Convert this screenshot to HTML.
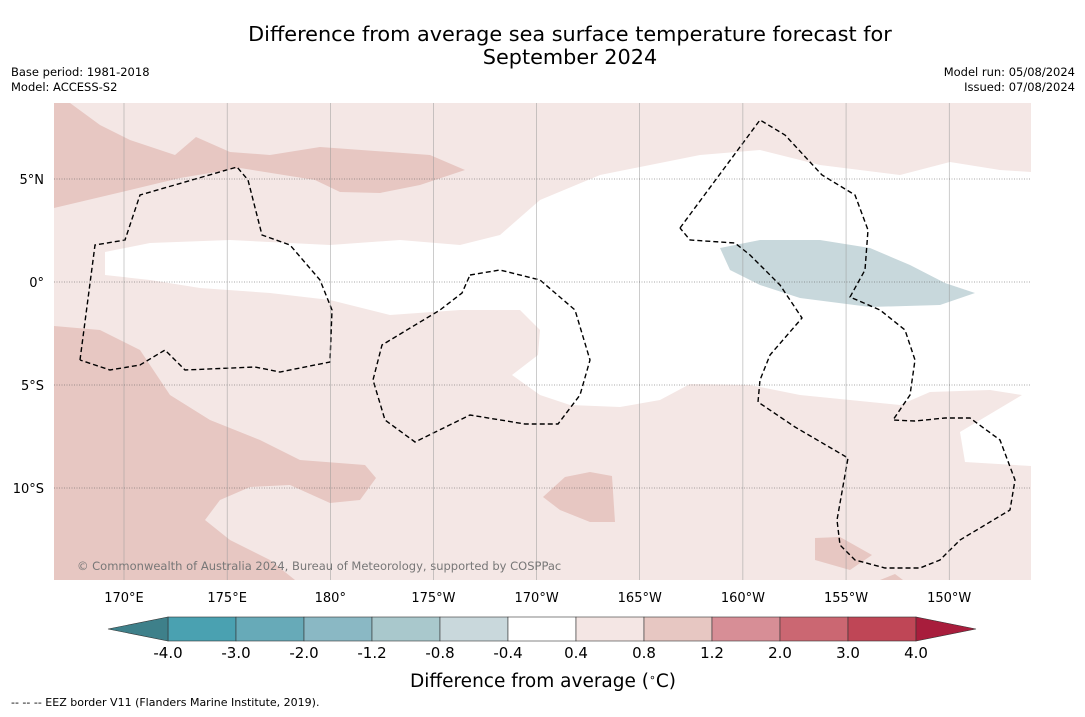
<!DOCTYPE html>
<html><head><meta charset="utf-8"><style>
body{margin:0;background:#fff;width:1085px;height:713px;overflow:hidden;font-family:"DejaVu Sans","Liberation Sans",sans-serif}
</style></head><body>
<svg width="1085" height="713" font-family="DejaVu Sans, Liberation Sans, sans-serif">
<text x="570" y="41" font-size="20.8" text-anchor="middle">Difference from average sea surface temperature forecast for</text>
<text x="570" y="64" font-size="20.8" text-anchor="middle">September 2024</text>
<text x="11" y="76" font-size="11.5">Base period: 1981-2018</text>
<text x="11" y="91" font-size="11.5">Model: ACCESS-S2</text>
<text x="1075" y="76" font-size="11.5" text-anchor="end">Model run: 05/08/2024</text>
<text x="1075" y="91" font-size="11.5" text-anchor="end">Issued: 07/08/2024</text>
<g id="map">
<clipPath id="mc"><rect x="54" y="103" width="977" height="477"/></clipPath>
<g clip-path="url(#mc)">
<rect x="54" y="103" width="977" height="477" fill="#f4e7e5"/>
<polygon fill="#fff" points="105,252 150,243 230,240 330,245 400,240 460,245 500,235 540,200 600,175 700,155 760,150 820,165 900,175 950,162 1000,170 1031,172 1031,466 965,462 960,432 1022,395 990,390 930,392 900,405 850,400 800,395 750,385 690,384 660,400 620,407 570,405 540,395 512,375 538,355 540,330 520,310 460,310 390,315 330,300 270,293 200,288 150,280 105,275"/>
<polygon fill="#e7c7c2" points="54,103 70,103 100,125 130,140 175,155 196,137 230,152 270,155 320,147 430,155 465,170 420,185 380,193 340,192 315,180 240,168 180,178 130,190 54,208"/>
<polygon fill="#e7c7c2" points="54,326 100,330 140,350 170,395 210,420 260,440 300,460 365,465 376,478 360,500 330,503 290,485 250,487 220,500 205,520 230,540 270,560 295,580 54,580"/>
<polygon fill="#e7c7c2" points="543,497 565,477 590,472 612,476 615,522 590,522 560,510"/>
<polygon fill="#e7c7c2" points="815,538 840,537 872,555 850,570 815,560"/>
<polygon fill="#e7c7c2" points="880,580 895,574 903,580"/>
<polygon fill="#c8d8dc" points="720,248 760,240 820,240 870,248 910,265 945,283 975,293 940,305 870,307 800,298 760,285 730,270"/>
<g fill="none" stroke="#000" stroke-width="1.4" stroke-dasharray="5,3">
<polyline points="80,360 95,245 125,240 140,195 237,167 248,180 262,235 290,245 320,280 332,310 330,362 280,372 255,367 185,370 165,350 140,365 110,370 80,360"/>
<polyline points="470,275 500,270 540,280 575,310 590,360 580,395 558,424 525,424 470,415 415,442 385,420 373,380 382,345 440,310 462,293 470,275"/>
<polyline points="680,228 760,120 785,135 822,175 855,195 868,230 865,270 850,297 880,310 905,330 915,360 910,395 893,420 915,421 945,418 970,418 1000,440 1015,480 1010,510 960,540 940,560 920,568 885,568 855,560 840,545 837,520 848,458 795,427 758,402 760,380 770,355 802,318 780,285 750,255 735,243 690,240 680,228"/>
</g>
</g>
<g id="grid"></g>
<text x="77" y="570" font-size="11.5" fill="#777">© Commonwealth of Australia 2024, Bureau of Meteorology, supported by COSPPac</text>
</g>
<g id="cbar"></g>
<text x="543" y="687" font-size="18.5" text-anchor="middle">Difference from average (<tspan baseline-shift="super" font-size="11">∘</tspan>C)</text>
<text x="11" y="706" font-size="11">--  --  -- EEZ border V11 (Flanders Marine Institute, 2019).</text>
</svg>
<script>
const lonTicks=["170°E","175°E","180°","175°W","170°W","165°W","160°W","155°W","150°W"];
const lonVals=[170,175,180,185,190,195,200,205,210];
const latTicks=["5°N","0°","5°S","10°S"];
const latVals=[5,0,-5,-10];
const levels=["-4.0","-3.0","-2.0","-1.2","-0.8","-0.4","0.4","0.8","1.2","2.0","3.0","4.0"];
const colors=["#4aa1b1","#67aab8","#8ab8c4","#a9c8cc","#c9d8dc","#ffffff","#f4e6e4","#e7c7c2","#d78e96","#cb6772","#bf4656"];
const extLow="#3e808a", extHigh="#a81d3c";
const NS="http://www.w3.org/2000/svg";
const xLon=v=>124+(v-170)*20.63, yLat=v=>282-v*20.6;
const g=document.getElementById('grid');
function mk(t,a,p){const e=document.createElementNS(NS,t);for(const k in a)e.setAttribute(k,a[k]);p.appendChild(e);return e;}
lonVals.forEach((v,i)=>{const x=xLon(v);
 const l=mk('line',{x1:x,x2:x,y1:103,y2:580,stroke:'#999','stroke-width':0.5},g);
 
 
 const t=mk('text',{x:x,y:602,'font-size':13,'text-anchor':'middle'},g);t.textContent=lonTicks[i];
 
 });
latVals.forEach((v,i)=>{const y=yLat(v);
 const l=mk('line',{x1:54,x2:1031,y1:y,y2:y,stroke:'#555','stroke-width':0.6,'stroke-dasharray':'1,1.5'},g);
 
 
 const t=mk('text',{x:44,y:y+5,'font-size':13,'text-anchor':'end'},g);t.textContent=latTicks[i];
 
 });
const cb=document.getElementById('cbar');
const x0=168,w=68,y0=617,h=24;
colors.forEach((c,i)=>{const r=mk('rect',{x:x0+i*w,y:y0,width:w,height:h,fill:c,stroke:'#333','stroke-width':0.6},cb);
 
 });
const xe=x0+colors.length*w;
const pl=mk('polygon',{points:`${x0},${y0} ${x0},${y0+h} 108,${y0+h/2}`,fill:extLow,stroke:'#333','stroke-width':0.6},cb);


const ph=mk('polygon',{points:`${xe},${y0} ${xe},${y0+h} ${xe+60},${y0+h/2}`,fill:extHigh,stroke:'#333','stroke-width':0.6},cb);


levels.forEach((s,i)=>{const t=mk('text',{x:x0+i*w,y:658,'font-size':15,'text-anchor':'middle'},cb);t.textContent=s;
 
 });
</script>
</body></html>
